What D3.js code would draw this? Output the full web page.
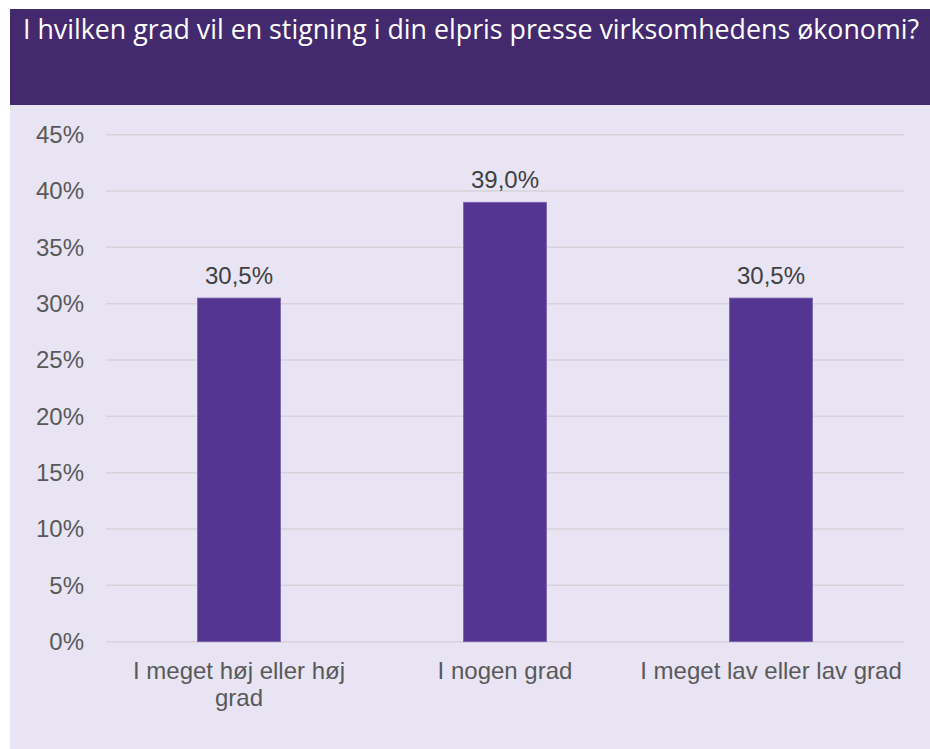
<!DOCTYPE html>
<html>
<head>
<meta charset="utf-8">
<script src="https://cdn.jsdelivr.net/npm/d3@7"></script>
<style>
  body { margin: 0; background: #fff; }
  svg { display: block; }
</style>
</head>
<body>
<svg id="chart"></svg>
<script>
const title = 'I hvilken grad vil en stigning i din elpris presse virksomhedens økonomi?'
const categories = ['I meget høj eller høj grad', 'I nogen grad', 'I meget lav eller lav grad']
const values = [0.305, 0.39, 0.305]
const yTicks = [0, 0.05, 0.10, 0.15, 0.20, 0.25, 0.30, 0.35, 0.40, 0.45]

const width = 930, height = 749
const plot = { left: 106, right: 904, top: 134.7, bottom: 641.7 }
const font = 'Liberation Sans, Arial, sans-serif'

const svg = d3.select('#chart').attr('width', width).attr('height', height)

// header band
svg.append('rect')
  .attr('x', 10).attr('y', 9).attr('width', width - 10).attr('height', 96)
  .attr('fill', '#432a6e')

svg.append('text')
  .attr('x', 23).attr('y', 39)
  .attr('font-family', 'Open Sans, sans-serif')
  .attr('font-size', 26.5)
  .attr('fill', '#fff')
  .attr('textLength', 896)
  .attr('lengthAdjust', 'spacingAndGlyphs')
  .text(title)

// chart background
svg.append('rect')
  .attr('x', 10).attr('y', 105).attr('width', width - 10).attr('height', height - 105)
  .attr('fill', '#e8e4f4')

const x = d3.scaleBand()
  .domain(categories)
  .range([plot.left, plot.right])
  .paddingInner(0.688)
  .paddingOuter(0.344)

const y = d3.scaleLinear()
  .domain([0, 0.45])
  .range([plot.bottom, plot.top])

// gridlines
svg.append('g')
  .selectAll('line')
  .data(yTicks)
  .enter()
  .append('line')
  .attr('x1', plot.left).attr('x2', plot.right)
  .attr('y1', d => y(d)).attr('y2', d => y(d))
  .attr('stroke', '#d6d3da')
  .attr('stroke-width', 1.5)

// y axis labels
const yAxis = d3.axisLeft(y)
  .tickValues(yTicks)
  .tickFormat(d => Math.round(d * 100) + '%')
  .tickSize(0)
  .tickPadding(0)

svg.append('g')
  .attr('transform', 'translate(84,0)')
  .call(yAxis)
  .call(g => g.select('.domain').remove())
  .selectAll('text')
  .attr('font-family', font)
  .attr('font-size', 24)
  .attr('fill', '#595959')

// bars
svg.append('g')
  .selectAll('rect')
  .data(values)
  .enter()
  .append('rect')
  .attr('x', (d, i) => x(categories[i]))
  .attr('width', x.bandwidth())
  .attr('y', d => y(d))
  .attr('height', d => plot.bottom - y(d))
  .attr('fill', '#553592')
  .attr('stroke', '#7a62ad')
  .attr('stroke-width', 0.8)

// value labels
svg.append('g')
  .selectAll('text')
  .data(values)
  .enter()
  .append('text')
  .attr('x', (d, i) => x(categories[i]) + x.bandwidth() / 2)
  .attr('y', d => y(d) - 14)
  .attr('text-anchor', 'middle')
  .attr('font-family', font)
  .attr('font-size', 24)
  .attr('fill', '#404040')
  .text(d => d3.format('.1f')(d * 100).replace('.', ',') + '%')

// x axis labels, wrapped like the office chart does
const xAxis = d3.axisBottom(x).tickSize(0).tickPadding(0)

const wrap = (text, maxWidth) => {
  text.each(function () {
    const t = d3.select(this)
    const words = t.text().split(' ')
    t.text(null)
    let line = []
    let tspan = t.append('tspan').attr('x', 0).attr('dy', 0)
    words.forEach(w => {
      line.push(w)
      tspan.text(line.join(' '))
      if (tspan.node().getComputedTextLength() > maxWidth && line.length > 1) {
        line.pop()
        tspan.text(line.join(' '))
        line = [w]
        tspan = t.append('tspan').attr('x', 0).attr('dy', 27).text(w)
      }
    })
  })
}

svg.append('g')
  .attr('transform', `translate(0,${plot.bottom})`)
  .call(xAxis)
  .call(g => g.select('.domain').remove())
  .selectAll('text')
  .attr('font-family', font)
  .attr('font-size', 24)
  .attr('fill', '#595959')
  .attr('dy', null)
  .attr('y', 37)
  .call(wrap, 263)
</script>
</body>
</html>
